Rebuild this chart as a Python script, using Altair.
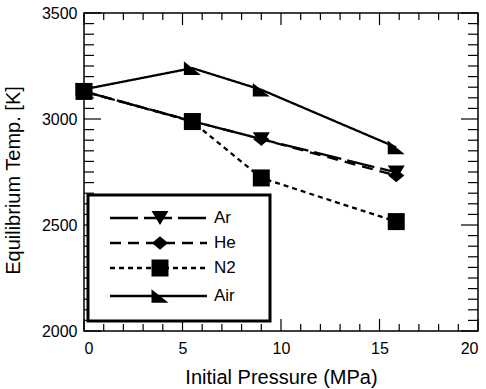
import altair as alt
import pandas as pd

# ---- data ----
series = ["Ar", "He", "N2", "Air"]
pressure = [0, 5.5, 9, 15.85]
temp_ar = [3130, 2990, 2905, 2748]
temp_he = [3130, 2990, 2905, 2733]
temp_n2 = [3130, 2988, 2722, 2516]
temp_air = [3140, 3240, 3138, 2866]

x_major = [0, 5, 10, 15, 20]
y_major = [2000, 2500, 3000, 3500]
x_minor = [v for v in range(0, 21) if v % 5]
y_minor = [v for v in range(2000, 3501, 50) if v % 500]

# ---- styles ----
FONT = "Liberation Sans"
W, H = 394, 318
dashes = {"Ar": [28, 6], "He": [11, 7], "N2": [5, 4], "Air": [1, 0]}
paths = {
    "Ar": "M-1,-0.82L1,-0.82L0,0.82Z",
    "He": "M-0.95,0L0,-0.78L0.95,0L0,0.78Z",
    "N2": "M-1,-1L1,-1L1,1L-1,1Z",
    "Air": "M-1,-0.8L-1,0.8L1,0.8Z",
}
legend_rows = {"Ar": 205, "He": 230, "N2": 255, "Air": 283}

values = {"Ar": temp_ar, "He": temp_he, "N2": temp_n2, "Air": temp_air}
draw_order = ["He", "Ar", "N2", "Air"]
df = pd.DataFrame(
    [{"series": s, "p": p, "T": t} for s in draw_order for p, t in zip(pressure, values[s])]
)

xs = alt.Scale(domain=[0, 20], nice=False, zero=False)
ys = alt.Scale(domain=[2000, 3500], nice=False, zero=False)

x_axis = alt.Axis(
    values=x_major, format="d", ticks=False, domain=False, grid=False,
    labelFont=FONT, labelFontSize=16, labelColor="black", labelPadding=9,
    title="Initial Pressure (MPa)", titleFont=FONT, titleFontSize=20,
    titleFontWeight="normal", titleColor="black", titleY=52, titleBaseline="alphabetic",
)
y_axis = alt.Axis(
    values=y_major, format="d", ticks=False, domain=False, grid=False,
    labelFont=FONT, labelFontSize=16, labelColor="black", labelPadding=7,
    title="Equilibrium Temp. [K]", titleFont=FONT, titleFontSize=20,
    titleFontWeight="normal", titleColor="black", titleX=-65, titleY=167,
    titleBaseline="alphabetic", titleAlign="center",
)


def X(f):
    return alt.X(f"{f}:Q", scale=xs, axis=x_axis)


def Y(f):
    return alt.Y(f"{f}:Q", scale=ys, axis=y_axis)


layers = []

# inward ticks on all four sides
xmin_df = pd.DataFrame({"p": x_minor})
xmaj_df = pd.DataFrame({"p": x_major})
ymin_df = pd.DataFrame({"T": y_minor})
ymaj_df = pd.DataFrame({"T": y_major})
rule = dict(color="black", strokeWidth=1.2)
for d, ln in ((xmin_df, 7), (xmaj_df, 12)):
    layers.append(alt.Chart(d).mark_rule(**rule).encode(x=X("p"), y=alt.value(H), y2=alt.value(H - ln)))
    layers.append(alt.Chart(d).mark_rule(**rule).encode(x=X("p"), y=alt.value(0), y2=alt.value(ln)))
for d, ln in ((ymin_df, 10), (ymaj_df, 17)):
    layers.append(alt.Chart(d).mark_rule(**rule).encode(y=Y("T"), x=alt.value(0), x2=alt.value(ln)))
    layers.append(alt.Chart(d).mark_rule(**rule).encode(y=Y("T"), x=alt.value(W), x2=alt.value(W - ln)))

# legend box
box_df = pd.DataFrame({"series": ["legend"]})
layers.append(
    alt.Chart(box_df).mark_rect(fill="white", stroke="black", strokeWidth=3).encode(
        x=alt.value(4), x2=alt.value(186), y=alt.value(182), y2=alt.value(308)
    )
)

# data lines and markers
layers.append(
    alt.Chart(df).mark_line(color="black", strokeWidth=2.3).encode(
        x=X("p"), y=Y("T"),
        strokeDash=alt.StrokeDash("series:N", scale=alt.Scale(domain=series, range=[dashes[s] for s in series]), legend=None),
    )
)
layers.append(
    alt.Chart(df).mark_point(filled=True, opacity=1, size=289, color="black", strokeWidth=0).encode(
        x=X("p"), y=Y("T"),
        shape=alt.Shape("series:N", scale=alt.Scale(domain=series, range=[paths[s] for s in series]), legend=None),
    )
)

# legend entries
for s in series:
    d = pd.DataFrame({"series": [s]})
    r = legend_rows[s]
    layers.append(
        alt.Chart(d).mark_rule(color="black", strokeWidth=2.3, strokeDash=dashes[s]).encode(
            x=alt.value(26), x2=alt.value(123), y=alt.value(r)
        )
    )
    layers.append(
        alt.Chart(d).mark_point(filled=True, opacity=1, size=289, color="black", strokeWidth=0, shape=paths[s]).encode(
            x=alt.value(76), y=alt.value(r)
        )
    )
    layers.append(
        alt.Chart(d).mark_text(align="left", baseline="middle", font=FONT, fontSize=17, color="black").encode(
            x=alt.value(130), y=alt.value(r), text="series:N"
        )
    )

chart = (
    alt.layer(*layers)
    .properties(
        width=W, height=H,
        autosize=alt.AutoSizeParams(type="none"),
        padding={"left": 84, "top": 13, "right": 8, "bottom": 58},
        background="white",
    )
    .configure_view(stroke="black", strokeWidth=1.5)
)

chart.save("out.html", embed_options={"renderer": "svg", "actions": False})
